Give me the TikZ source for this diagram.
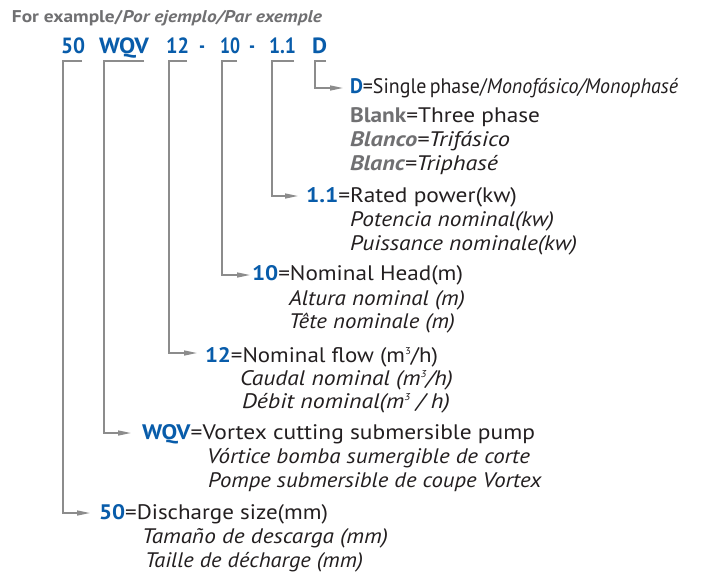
\documentclass[tikz,border=0pt]{standalone}
\usepackage{fontspec}
\setmainfont{PT Sans}
\usepackage{graphicx}
\usetikzlibrary{arrows.meta}
\definecolor{codeblue}{RGB}{8,92,170}
\definecolor{labgray}{RGB}{112,112,114}
\definecolor{linegray}{RGB}{140,140,140}
\definecolor{txtblack}{RGB}{35,31,32}
\newcommand{\fitto}[2]{\resizebox{#1pt}{\height}{#2}}
\newcommand{\cb}[1]{\textcolor{codeblue}{\textbf{#1}}}
\newcommand{\gb}[1]{\textcolor{labgray}{\textbf{#1}}}
\newcommand{\sqr}{\raisebox{8pt}{\fontsize{10}{10}\selectfont 3}}
\tikzset{
  txt/.style={anchor=base west, inner sep=0pt, outer sep=0pt, text=txtblack,
    font=\fontsize{21}{24}\selectfont},
  codetxt/.style={anchor=base west, inner sep=0pt, outer sep=0pt, text=codeblue,
    font=\fontsize{22}{26}\selectfont\bfseries},
  bracket/.style={draw=linegray, line width=1.4pt},
  arr/.style={-{Triangle[length=13pt,width=5pt]}},
}
\begin{document}
\begin{tikzpicture}[x=1pt,y=-1pt]
\useasboundingbox[fill=white] (0,0) rectangle (719,582);

% title
\node[txt, font=\fontsize{17}{20}\selectfont\bfseries, text=labgray] (title) at (12,22)
  {\fitto{310}{For example/\textit{Por ejemplo/Par exemple}}};

% code line
\node[codetxt] (c50)  at (61,53)  {\fitto{24}{50}};
\node[codetxt] (cwqv) at (99,53)  {\fitto{50}{WQV}};
\node[codetxt] (c12)  at (166,53) {\fitto{23}{12}};
\node[codetxt] (d1)   at (199,53) {\fitto{6}{-}};
\node[codetxt] (c10)  at (220,53) {\fitto{20}{10}};
\node[codetxt] (d2)   at (249,53) {\fitto{6}{-}};
\node[codetxt] (c11)  at (269,53) {\fitto{27}{1.1}};
\node[codetxt] (cd)   at (312,53) {\fitto{15}{D}};

% bracket coordinates
\coordinate (s50)  at (82,61);  \coordinate (k50)  at (63,61);  \coordinate (a50)  at (90,513);
\coordinate (swqv) at (144,61); \coordinate (kwqv) at (104,61); \coordinate (awqv) at (131,433);
\coordinate (s12)  at (187,61); \coordinate (k12)  at (169,61); \coordinate (a12)  at (197,353);
\coordinate (s10)  at (237,61); \coordinate (k10)  at (222,61); \coordinate (a10)  at (250,275);
\coordinate (s11)  at (294,61); \coordinate (k11)  at (272,61); \coordinate (a11)  at (298,196);
\coordinate (sd)   at (326,61); \coordinate (kd)   at (315,61); \coordinate (ad)   at (343,88);

\draw[bracket, arr] (s50) -- (k50) |- (a50);
\draw[bracket, arr] (swqv) -- (kwqv) |- (awqv);
\draw[bracket, arr] (s12) -- (k12) |- (a12);
\draw[bracket, arr] (s10) -- (k10) |- (a10);
\draw[bracket, arr] (s11) -- (k11) |- (a11);
\draw[bracket, arr] (sd) -- (kd) |- (ad);

% D
\node[txt] (ld1) at (350,93)  {\fitto{328}{\cb{D}=Single\,phase/\textit{Monofásico/Monophasé}}};
\node[txt] (ld2) at (350,122) {\fitto{190}{\gb{Blank}=Three phase}};
\node[txt] (ld3) at (350,146) {\fitto{160}{\textit{\gb{Blanco}=Trifásico}}};
\node[txt] (ld4) at (350,170) {\fitto{148}{\textit{\gb{Blanc}=Triphasé}}};

% 1.1
\node[txt] (l11a) at (306,202) {\fitto{211}{\cb{1.1}=Rated power(kw)}};
\node[txt] (l11b) at (350,226) {\fitto{204}{\textit{Potencia nominal(kw)}}};
\node[txt] (l11c) at (350,250) {\fitto{227}{\textit{Puissance nominale(kw)}}};

% 10
\node[txt] (l10a) at (252,280) {\fitto{211}{\cb{10}=Nominal Head(m)}};
\node[txt] (l10b) at (289,305) {\fitto{176}{\textit{Altura nominal (m)}}};
\node[txt] (l10c) at (289,328) {\fitto{166}{\textit{Tête nominale (m)}}};

% 12
\node[txt] (l12a) at (205,362) {\fitto{233}{\cb{12}=Nominal flow (m\sqr/h)}};
\node[txt] (l12b) at (240,385) {\fitto{213}{\textit{Caudal nominal (m\sqr/h)}}};
\node[txt] (l12c) at (242,408) {\fitto{208}{\textit{Débit nominal(m\sqr\ / h)}}};

% WQV
\node[txt] (lwa) at (142,439) {\fitto{393}{\cb{WQV}=Vortex cutting submersible pump}};
\node[txt] (lwb) at (207,463) {\fitto{323}{\textit{Vórtice bomba sumergible de corte}}};
\node[txt] (lwc) at (208,487) {\fitto{334}{\textit{Pompe submersible de coupe Vortex}}};

% 50
\node[txt] (l50a) at (99,519)  {\fitto{229}{\cb{50}=Discharge size(mm)}};
\node[txt] (l50b) at (142,543) {\fitto{246}{\textit{Tamaño de descarga (mm)}}};
\node[txt] (l50c) at (145,567) {\fitto{218}{\textit{Taille de décharge (mm)}}};
\end{tikzpicture}
\end{document}
